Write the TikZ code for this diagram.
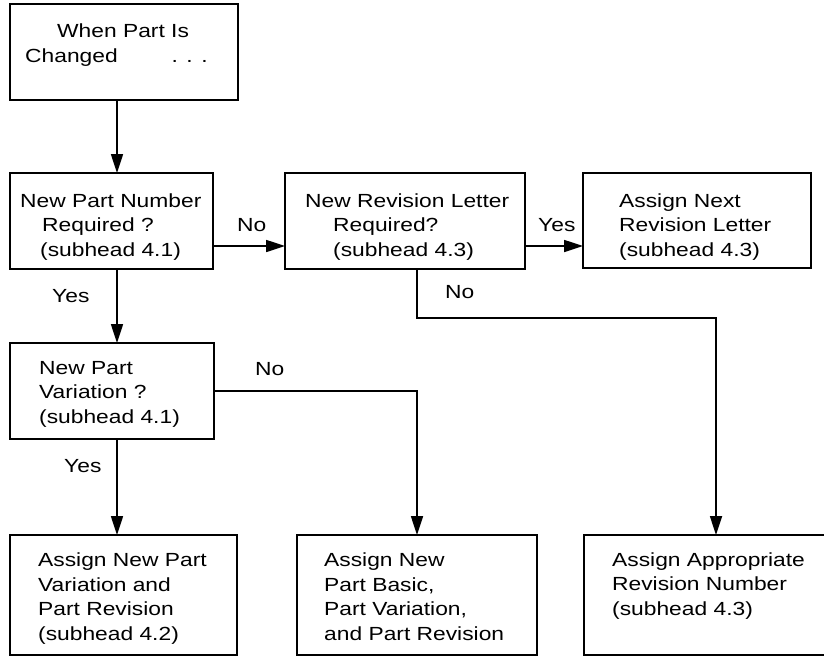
\documentclass[tikz,border=0pt]{standalone}
\usepackage{fontspec}
\setmainfont{Liberation Sans}[FakeStretch=1.2]
\usepackage{tikz}
\usetikzlibrary{arrows.meta}
\tikzset{stepbox/.style={
    draw=black,
    line width=1.8pt,
    rectangle,
    inner sep=0pt,
    outer sep=0pt}}
\tikzset{boxtext/.style={
    anchor=base west,
    align=left,
    inner sep=0pt,
    font=\fontsize{19}{24.5}\selectfont}}
\tikzset{flow/.style={
    draw=black,
    line width=1.7pt,
    -{Triangle[length=19pt,width=12pt]}}}

\begin{document}
\begin{tikzpicture}[x=1pt,y=-1pt]
	\useasboundingbox (0,0) rectangle (824,656);
\coordinate (trunk) at (117,0);
\coordinate (row) at (0,246);
\coordinate (jog) at (716,318);

\node[stepbox, minimum width=228pt, minimum height=96pt] (changed) at (124,52) {};
\node[stepbox, minimum width=203pt, minimum height=96pt] (partnum) at (111.5,221) {};
\node[stepbox, minimum width=240pt, minimum height=96pt] (revletter) at (405,221) {};
\node[stepbox, minimum width=228pt, minimum height=95pt] (nextletter) at (697,220.5) {};
\node[stepbox, minimum width=204pt, minimum height=96pt] (variation) at (112,391) {};
\node[stepbox, minimum width=227pt, minimum height=120pt] (newvar) at (123.5,595) {};
\node[stepbox, minimum width=240pt, minimum height=120pt] (newbasic) at (417,595) {};
\node[stepbox, minimum width=246pt, minimum height=120pt] (revnumber) at (707,595) {};

% text sits on the baseline of its last line
\node[boxtext] (t1) at (25,62) {\hspace{32pt}When Part Is\\Changed\hspace{54pt}. . .};
\node[boxtext] (t2) at (20,256) {New Part Number\\\hspace{22pt}Required ?\\\hspace{20pt}(subhead 4.1)};
\node[boxtext] (t3) at (305,256) {New Revision Letter\\\hspace{28pt}Required?\\\hspace{28pt}(subhead 4.3)};
\node[boxtext] (t4) at (619,256) {Assign Next\\Revision Letter\\(subhead 4.3)};
\node[boxtext] (t5) at (39,423) {New Part\\Variation ?\\(subhead 4.1)};
\node[boxtext] (t6) at (38,640) {Assign New Part\\Variation and\\Part Revision\\(subhead 4.2)};
\node[boxtext] (t7) at (324,640) {Assign New\\Part Basic,\\Part Variation,\\and Part Revision};
\node[boxtext] (t8) at (612,615) {Assign Appropriate\\Revision Number\\(subhead 4.3)};

% branch labels
\node[boxtext] (no1) at (237,231) {No};
\node[boxtext] (yes1) at (52,302) {Yes};
\node[boxtext] (yes2) at (538,231) {Yes};
\node[boxtext] (no2) at (445,298) {No};
\node[boxtext] (no3) at (255,375) {No};
\node[boxtext] (yes3) at (64,472) {Yes};

\path[flow] (changed.south -| trunk) -- (partnum.north -| trunk);
\path[flow] (partnum.east |- row) -- (revletter.west |- row);
\path[flow] (revletter.east |- row) -- (nextletter.west |- row);
\path[flow] (partnum.south -| trunk) -- (variation.north -| trunk);
\path[flow] (variation.south -| trunk) -- (newvar.north -| trunk);
\path[flow] (variation.east) -| (newbasic.north);
\path[flow] (revletter.south -| newbasic) |- (jog) -- (revnumber.north -| jog);

\end{tikzpicture}
\end{document}
